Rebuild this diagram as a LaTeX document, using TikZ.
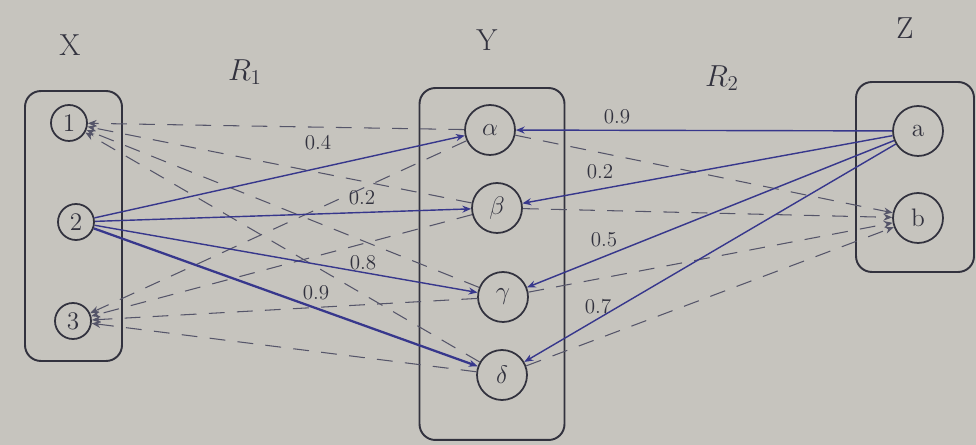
\documentclass[tikz,border=0pt]{standalone}
\usetikzlibrary{arrows.meta}
\definecolor{paper}{RGB}{198,196,190}
\definecolor{ink}{RGB}{55,55,140}
\definecolor{pencil}{RGB}{50,50,62}
\definecolor{faint}{RGB}{85,85,105}
\tikzset{
  setbox/.style={draw=pencil, line width=1.1pt, rounded corners=9pt, inner sep=0pt},
  elem/.style={circle, draw=pencil, line width=1pt, inner sep=0pt, text=pencil, font=\Large},
  xelem/.style={elem, minimum size=0.72cm},
  yelem/.style={elem, minimum size=1.0cm},
  solidedge/.style={draw=ink, line width=0.8pt, -{Stealth[length=5pt,width=4pt]}},
  dashedge/.style={draw=faint, line width=0.6pt, dashed, dash pattern=on 9pt off 7pt, -{Stealth[length=5pt,width=4pt]}},
  wlabel/.style={text=pencil, font=\large},
  setlabel/.style={text=pencil, font=\LARGE},
}
\begin{document}
\begin{tikzpicture}[x=0.02cm,y=-0.02cm]
\fill[paper] (0,0) rectangle (976,445);
\useasboundingbox (0,0) rectangle (976,445);

% set boxes
\node[setbox, minimum width=1.94cm, minimum height=5.4cm] (Xbox) at (73.5,226) {};
\node[setbox, minimum width=2.9cm, minimum height=7.04cm] (Ybox) at (492,264) {};
\node[setbox, minimum width=2.36cm, minimum height=3.8cm] (Zbox) at (915,177) {};

% set labels
\node[setlabel] (lX) at (70,45) {X};
\node[setlabel] (lR1) at (245,72) {$R_1$};
\node[setlabel] (lY) at (487,40) {Y};
\node[setlabel] (lR2) at (722,78) {$R_2$};
\node[setlabel] (lZ) at (905,28) {Z};

% elements
\node[xelem] (n1) at (69,123) {1};
\node[xelem] (n2) at (76,222) {2};
\node[xelem] (n3) at (73,321) {3};
\node[yelem] (al) at (490,130) {$\alpha$};
\node[yelem] (be) at (497,208) {$\beta$};
\node[yelem] (ga) at (503,297) {$\gamma$};
\node[yelem] (de) at (502,375) {$\delta$};
\node[yelem] (za) at (918,131) {a};
\node[yelem] (zb) at (918,218) {b};

% R1 dashed (zero) pairs
\foreach \t in {al,be,ga,de}{
  \draw[dashedge] (\t) -- (n1);
  \draw[dashedge] (\t) -- (n3);
}
% R2 dashed (zero) pairs
\foreach \t in {al,be,ga,de}{
  \draw[dashedge] (\t) -- (zb);
}

% R1 solid pairs
\draw[solidedge] (n2) -- (al);
\draw[solidedge] (n2) -- (be);
\draw[solidedge] (n2) -- (ga);
\draw[solidedge, line width=1.3pt] (n2) -- (de);
% R2 solid pairs
\draw[solidedge] (za) -- (al);
\draw[solidedge] (za) -- (be);
\draw[solidedge] (za) -- (ga);
\draw[solidedge] (za) -- (de);

% weights
\node[wlabel] (w1) at (318,143) {0.4};
\node[wlabel] (w2) at (362,198) {0.2};
\node[wlabel] (w3) at (363,263) {0.8};
\node[wlabel] (w4) at (316,293) {0.9};
\node[wlabel] (w5) at (617,117) {0.9};
\node[wlabel] (w6) at (600,172) {0.2};
\node[wlabel] (w7) at (604,240) {0.5};
\node[wlabel] (w8) at (598,307) {0.7};
\end{tikzpicture}
\end{document}
